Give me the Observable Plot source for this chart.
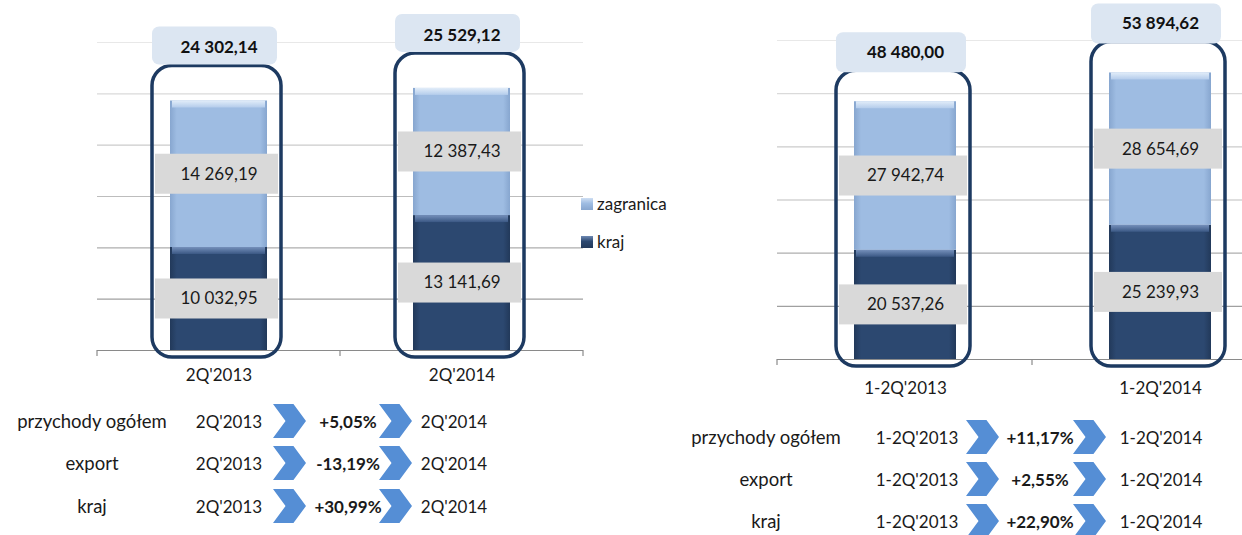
<!DOCTYPE html>
<html>
<head>
<meta charset="utf-8">
<script src="https://cdn.jsdelivr.net/npm/d3@7"></script>
<script src="https://cdn.jsdelivr.net/npm/@observablehq/plot@0.6"></script>
<style>
  html, body { margin: 0; padding: 0; background: #fff; }
  #root { position: relative; width: 1242px; height: 535px; overflow: hidden; background: #fff; font-family: Lato, "Open Sans", sans-serif; color: #1a1a1a; }
  .chart { position: absolute; top: 0; }
  .t { position: absolute; transform: translate(-50%, -50%); font-size: 17px; line-height: 1; white-space: nowrap; }
  .t.rl { font-size: 18.5px; }
  .chev { position: absolute; width: 33px; height: 34px; background: #558ed5;
          clip-path: polygon(0 0, 62% 0, 100% 50%, 62% 100%, 0 100%, 38% 50%); }
  .lg { position: absolute; font-size: 17px; line-height: 1; white-space: nowrap; }
  .lgm { position: absolute; width: 12px; height: 12px; }
</style>
</head>
<body>
<svg width="0" height="0" style="position:absolute">
  <defs>
    <linearGradient id="gKraj" x1="0" x2="1" y1="0" y2="0">
      <stop offset="0" stop-color="#22395a"/>
      <stop offset="0.07" stop-color="#2c4870"/>
      <stop offset="0.93" stop-color="#2c4870"/>
      <stop offset="1" stop-color="#22395a"/>
    </linearGradient>
    <linearGradient id="gZag" x1="0" x2="1" y1="0" y2="0">
      <stop offset="0" stop-color="#87a6cf"/>
      <stop offset="0.07" stop-color="#9ebce2"/>
      <stop offset="0.93" stop-color="#9ebce2"/>
      <stop offset="1" stop-color="#87a6cf"/>
    </linearGradient>
    <linearGradient id="bZag" x1="0" x2="0" y1="0" y2="1">
      <stop offset="0" stop-color="#e2edf9"/>
      <stop offset="1" stop-color="#b4cceb"/>
    </linearGradient>
    <linearGradient id="bKraj" x1="0" x2="0" y1="0" y2="1">
      <stop offset="0" stop-color="#7590bb"/>
      <stop offset="1" stop-color="#3b5884"/>
    </linearGradient>
  </defs>
</svg>
<div id="root"></div>
<script>
// ---------- data ----------
const seriesNames = ["zagranica", "kraj"];

const periodsQ = ["2Q'2013", "2Q'2014"];
const krajQ = [10032.95, 13141.69];
const zagrQ = [14269.19, 12387.43];
const totalQ = [24302.14, 25529.12];

const periodsH = ["1-2Q'2013", "1-2Q'2014"];
const krajH = [20537.26, 25239.93];
const zagrH = [27942.74, 28654.69];
const totalH = [48480.00, 53894.62];

const rowLabels = ["przychody ogółem", "export", "kraj"];
const changeQ = ["+5,05%", "-13,19%", "+30,99%"];
const changeH = ["+11,17%", "+2,55%", "+22,90%"];

// ---------- helpers ----------
const locale = d3.formatLocale({decimal: ",", thousands: "\u00a0", grouping: [3], currency: ["", ""]});
const fmt = locale.format(",.2f");
const root = document.getElementById("root");

function boundaryTicks(n) {
  return (index, scales, values, dims) => {
    const {width, height, marginLeft, marginRight, marginBottom} = dims;
    const y0 = height - marginBottom;
    const w = (width - marginLeft - marginRight) / n;
    const g = d3.create("svg:g").attr("stroke", "#8a8a8a").attr("stroke-width", 1.2);
    for (let i = 0; i <= n; i++) {
      const x = marginLeft + i * w;
      g.append("line").attr("x1", x).attr("x2", x).attr("y1", y0).attr("y2", y0 + 6);
    }
    return g.node();
  };
}

function chart(o) {
  const segs = [];
  o.periods.forEach((p, i) => {
    segs.push({period: p, series: "kraj", value: o.kraj[i], y1: 0, y2: o.kraj[i]});
    segs.push({period: p, series: "zagranica", value: o.zagr[i], y1: o.kraj[i], y2: o.kraj[i] + o.zagr[i]});
  });
  segs.forEach(d => d.mid = (d.y1 + d.y2) / 2);
  const totals = o.periods.map((p, i) => ({period: p, total: o.total[i]}));
  const grid = d3.range(1, o.nGrid + 1).map(k => k * o.yMax / o.nGrid);
  const gridColor = d3.scaleLinear().domain([grid[0], o.yMax]).range(["#a0a0a0", "#e8e8e8"]);
  const krajSegs = segs.filter(d => d.series === "kraj");
  const zagSegs = segs.filter(d => d.series === "zagranica");

  return Plot.plot({
    width: 620,
    height: 400,
    marginLeft: 97,
    marginRight: o.marginRight,
    marginTop: o.marginTop,
    marginBottom: o.marginBottom,
    style: {fontFamily: "Lato, 'Open Sans', sans-serif", fontSize: "17px", color: "#1a1a1a", background: "transparent", overflow: "visible"},
    x: {domain: o.periods, paddingInner: 0.6, paddingOuter: 0.3, tickSize: 0, tickPadding: o.tickPadding, label: null},
    y: {domain: [0, o.yMax], axis: null},
    color: {type: "identity"},
    marks: [
      Plot.ruleY(grid, {stroke: d => gridColor(d), strokeWidth: 1.2}),
      Plot.ruleY([0], {stroke: "#8a8a8a", strokeWidth: 1.2}),
      boundaryTicks(o.periods.length),
      Plot.barY(krajSegs, {x: "period", y1: "y1", y2: "y2", fill: "url(#gKraj)"}),
      Plot.barY(zagSegs, {x: "period", y1: "y1", y2: "y2", fill: "url(#gZag)"}),
      Plot.barY(zagSegs, {x: "period", y1: "y2", y2: "y2", insetBottom: -7, insetLeft: 2, insetRight: 2, fill: "url(#bZag)"}),
      Plot.barY(krajSegs, {x: "period", y1: "y2", y2: "y2", insetBottom: -7, insetLeft: 2, insetRight: 2, fill: "url(#bKraj)"}),
      Plot.barY(totals, {x: "period", y1: 0, y2: "total", fill: "none", stroke: "#1d3a61", strokeWidth: 3.5,
        rx: 20, insetLeft: -18, insetRight: -14, insetTop: o.boxTop, insetBottom: -7}),
      Plot.barY(segs, {x: "period", y1: "mid", y2: "mid", insetTop: -20, insetBottom: -20, insetLeft: -15, insetRight: -11, fill: "#d9d9d9"}),
      Plot.text(segs, {x: "period", y: "mid", text: d => fmt(d.value), fontSize: 17, fill: "#1a1a1a", dx: 0}),
      Plot.barY(totals, {x: "period", y1: "total", y2: "total", insetTop: o.totTop, insetBottom: o.totBottom,
        insetLeft: -18, insetRight: -10, fill: "#dce6f2", rx: 7}),
      Plot.text(totals, {x: "period", y: "total", dy: o.totDy, text: d => fmt(d.total), fontSize: 17, fontWeight: "bold", fill: "#111"})
    ]
  });
}

// ---------- charts ----------
const c1 = chart({periods: periodsQ, kraj: krajQ, zagr: zagrQ, total: totalQ, yMax: 30000, nGrid: 6,
  marginRight: 37, marginTop: 42, marginBottom: 50, tickPadding: 18,
  boxTop: -35, totTop: -74, totBottom: 36, totDy: -53});
c1.classList.add("chart");
c1.style.left = "0px";
root.appendChild(c1);

const c2 = chart({periods: periodsH, kraj: krajH, zagr: zagrH, total: totalH, yMax: 60000, nGrid: 6,
  marginRight: 13, marginTop: 40, marginBottom: 41, tickPadding: 22,
  boxTop: -31, totTop: -69, totBottom: 29, totDy: -49});
c2.classList.add("chart");
c2.style.left = "680px";
root.appendChild(c2);

// ---------- legend ----------
const legendColors = {zagranica: "linear-gradient(#cfdff3, #9ebce2 45%, #87a6cf)", kraj: "linear-gradient(#6f8ab4, #2c4870 45%, #22395a)"};
seriesNames.forEach((s, i) => {
  const cy = 204 + i * 38;
  const m = document.createElement("div");
  m.className = "lgm";
  m.style.left = "581px"; m.style.top = (cy - 6) + "px";
  m.style.background = legendColors[s];
  root.appendChild(m);
  const t = document.createElement("div");
  t.className = "lg";
  t.textContent = s;
  t.style.left = "597px"; t.style.top = (cy - 9) + "px";
  root.appendChild(t);
});

// ---------- comparison tables ----------
function addText(txt, x, y, bold, cls) {
  const d = document.createElement("div");
  d.className = "t" + (cls ? " " + cls : "");
  d.textContent = txt;
  d.style.left = x + "px";
  d.style.top = y + "px";
  if (bold) d.style.fontWeight = "700";
  root.appendChild(d);
}
function addChev(x, y) {
  const d = document.createElement("div");
  d.className = "chev";
  d.style.left = x + "px";
  d.style.top = (y - 17) + "px";
  root.appendChild(d);
}
function table(t) {
  rowLabels.forEach((lab, i) => {
    const y = t.rows[i];
    addText(lab, t.labelX, y, false, "rl");
    addText(t.periods[0], t.p1X, y, false);
    addChev(t.chev1X, y);
    addText(t.changes[i], t.pctX, y, true);
    addChev(t.chev2X, y);
    addText(t.periods[1], t.p2X, y, false);
  });
}
table({periods: periodsQ, changes: changeQ, rows: [421, 463, 506], labelX: 92, p1X: 229, chev1X: 273, pctX: 348, chev2X: 379, p2X: 454});
table({periods: periodsH, changes: changeH, rows: [437, 479, 521], labelX: 766, p1X: 917, chev1X: 966, pctX: 1040, chev2X: 1073, p2X: 1161});
</script>
</body>
</html>
